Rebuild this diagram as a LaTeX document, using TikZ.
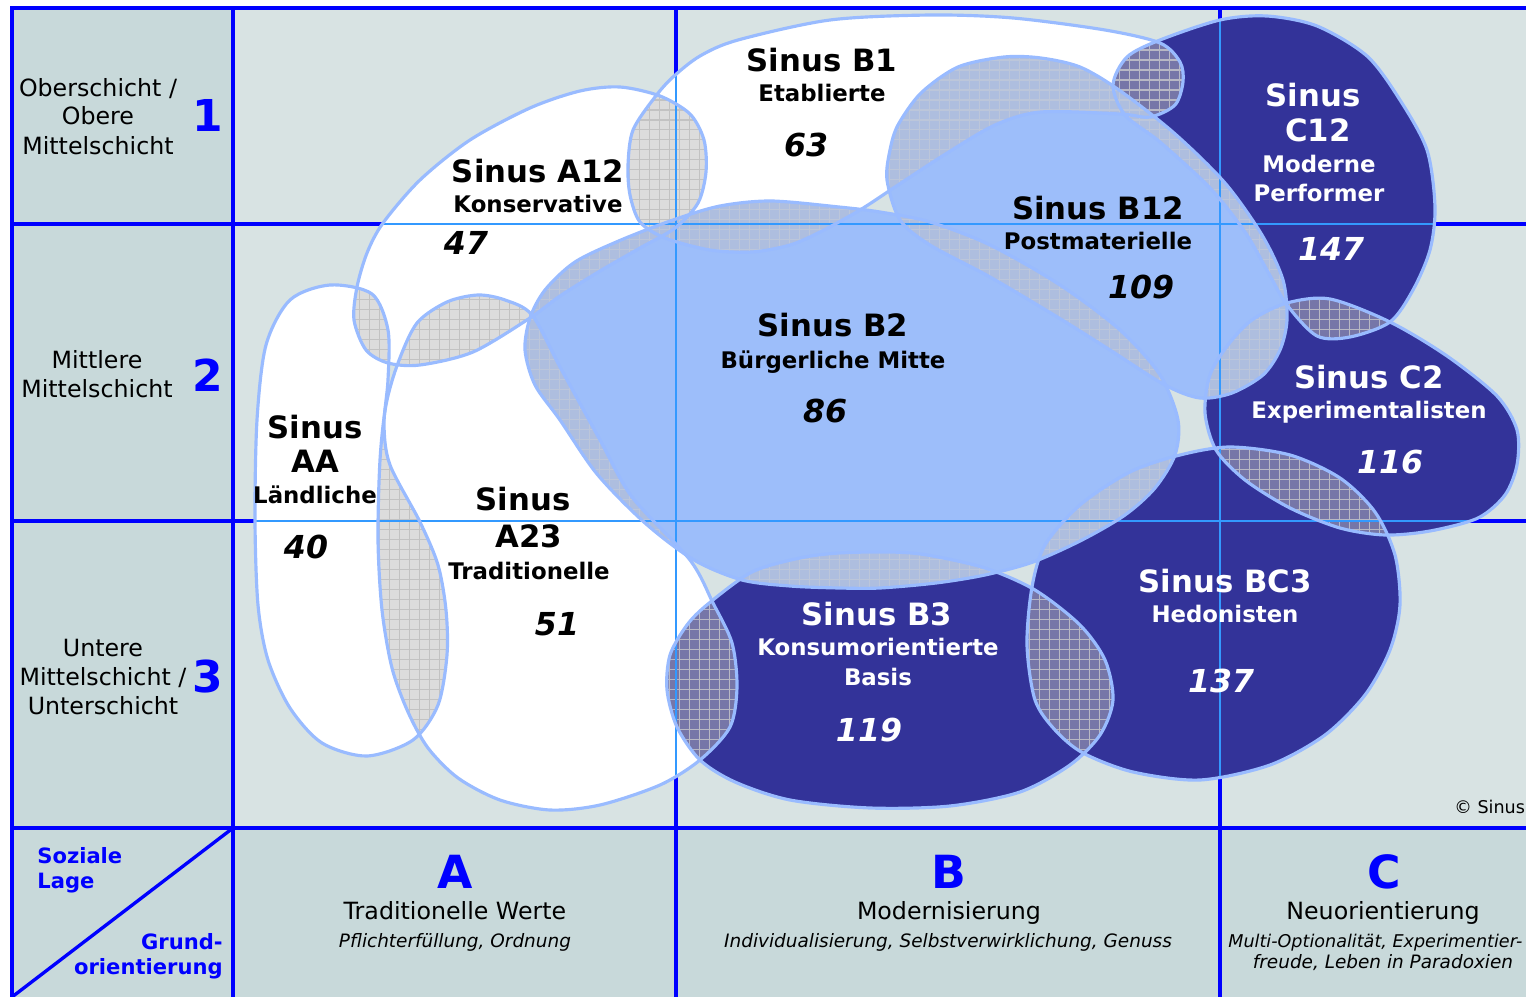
\documentclass[tikz,border=0pt]{standalone}
\usepackage{fontspec}
\setmainfont{DejaVu Sans}

\definecolor{fieldbg}{HTML}{D8E3E3}
\definecolor{headbg}{HTML}{C8D9DA}
\definecolor{gridblue}{HTML}{0000FF}
\definecolor{gridlight}{HTML}{3399FF}
\definecolor{rimblue}{HTML}{99BBFF}
\definecolor{milLight}{HTML}{9DBEFA}
\definecolor{milDark}{HTML}{333399}
\definecolor{ovGray}{HTML}{DCDCDC}
\definecolor{ovGrayLine}{HTML}{C2C2C2}
\definecolor{ovLight}{HTML}{AEBEDF}
\definecolor{ovLightLine}{HTML}{BCC6DA}
\definecolor{ovDark}{HTML}{7676A8}
\definecolor{ovDarkLine}{HTML}{B8B8C4}

% milieu outlines (pixel coordinates, y downwards)
\def\pAA{plot[smooth cycle] coordinates {(330,285) (372,294) (388,330) (388,380) (384,425) (390,465) (420,522) (438,565) (446,610) (447,655) (438,705) (413,740) (367,756) (322,743) (290,708) (268,660) (258,605) (255,520) (257,420) (266,345) (290,300)}}
\def\pAob{plot[smooth cycle] coordinates {(383,223) (420,180) (470,140) (530,108) (580,91) (620,87) (660,96) (690,114) (704,140) (706,172) (698,203) (675,228) (640,248) (600,271) (560,296) (530,318) (473,352) (420,365) (388,363) (366,350) (354,320) (357,287) (367,253)}}
\def\pAun{plot[smooth cycle] coordinates {(532,315) (560,367) (600,440) (632,497) (690,560) (713,603) (732,643) (737,687) (730,727) (700,760) (660,785) (600,805) (550,810) (500,800) (458,778) (428,748) (408,712) (392,668) (382,610) (378,540) (380,460) (386,405) (398,363) (417,323) (447,302) (478,295) (505,300)}}
\def\pBob{plot[smooth cycle] coordinates {(655,97) (673,77) (700,56) (738,40) (830,20) (931,15) (1013,18) (1105,30) (1160,43) (1180,62) (1183,82) (1175,105) (1150,117) (1120,114) (1041,112) (995,125) (944,155) (898,185) (860,210) (820,232) (790,245) (752,252) (710,250) (665,238) (640,222) (630,195) (628,165) (633,130)}}
\def\pBmid{plot[smooth cycle] coordinates {(525,350) (530,318) (545,290) (575,262) (621,240) (673,220) (720,206) (771,201) (839,207) (880,212) (930,222) (990,245) (1060,285) (1120,330) (1160,375) (1178,420) (1175,455) (1155,488) (1125,515) (1082,540) (1033,562) (985,575) (936,583) (880,588) (839,588) (790,586) (742,580) (694,560) (645,523) (597,474) (560,420) (535,385)}}
\def\pBun{plot[smooth cycle] coordinates {(708,604) (752,572) (800,558) (839,553) (890,552) (927,555) (985,568) (1035,590) (1080,625) (1105,660) (1113,700) (1100,735) (1070,765) (1020,792) (950,806) (870,808) (790,800) (735,782) (700,760) (677,727) (667,690) (670,655) (687,625)}}
\def\pBpost{plot[smooth cycle] coordinates {(887,180) (890,150) (898,125) (921,93) (958,67) (1004,57) (1041,58) (1080,67) (1119,90) (1174,133) (1225,183) (1262,235) (1283,280) (1287,320) (1280,350) (1263,375) (1232,393) (1200,398) (1165,385) (1110,350) (1059,318) (990,277) (930,245) (900,220)}}
\def\pBCun{plot[smooth cycle] coordinates {(1032,587) (1045,545) (1080,505) (1130,472) (1180,455) (1230,447) (1290,455) (1340,478) (1375,512) (1395,555) (1400,605) (1390,650) (1365,695) (1325,735) (1270,765) (1200,780) (1133,772) (1083,753) (1055,730) (1035,700) (1027,645)}}
\def\pCob{plot[smooth cycle] coordinates {(1160,40) (1220,20) (1267,16) (1317,26) (1367,56) (1400,100) (1427,150) (1435,207) (1430,250) (1413,290) (1390,322) (1350,337) (1317,336) (1287,305) (1268,272) (1245,232) (1210,188) (1160,142) (1125,115) (1113,85) (1127,57)}}
\def\pCmid{plot[smooth cycle] coordinates {(1287,303) (1330,299) (1390,322) (1447,356) (1497,396) (1517,430) (1517,465) (1505,495) (1478,518) (1430,531) (1385,535) (1340,528) (1290,508) (1245,480) (1216,450) (1205,413) (1210,375) (1228,345) (1252,320)}}

% cross-hatched overlap of two milieus
\newcommand{\overlap}[4]{%
  \begin{scope}
    \clip #1; \clip #2;
    \fill[#3] (0,0) rectangle (1526,997);
    \draw[#4, line width=0.6pt, step=0.2cm] (0,0) grid (1526,997);
  \end{scope}}

\begin{document}
\begin{tikzpicture}[x=0.02cm, y=-0.02cm,
    frame/.style={gridblue, line width=1.9pt},
    inner grid/.style={gridlight, line width=1.1pt},
    rim/.style={rimblue, line width=1.8pt},
    txt/.style={inner sep=0pt, anchor=base},
    layer/.style={txt, font=\fontsize{13.5}{16}\selectfont},
    laynum/.style={txt, text=gridblue, font=\bfseries\fontsize{25}{28}\selectfont},
    axis/.style={txt, text=gridblue, font=\bfseries\fontsize{12}{14}\selectfont},
    colhead/.style={txt, text=gridblue, font=\bfseries\fontsize{26}{28}\selectfont},
    values/.style={txt, font=\itshape\fontsize{10.5}{12}\selectfont},
    mtitle/.style={txt, font=\bfseries\fontsize{17.5}{20}\selectfont},
    subtitle/.style={txt, font=\bfseries\fontsize{13}{15}\selectfont},
    num/.style={txt, font=\bfseries\itshape\fontsize{18}{20}\selectfont},
    inv/.style={text=white}
]

\useasboundingbox (0,0) rectangle (1526,997);
\clip (0,0) rectangle (1526,997);

% Background
\fill[white] (0,0) rectangle (1526,997);
\fill[fieldbg] (12,8) rectangle (1526,997);
\fill[headbg] (12,8) rectangle (233,997);
\fill[headbg] (12,828) rectangle (1526,997);

% Frame and grid
\draw[frame] (12,997) -- (12,8) -- (1526,8);
\foreach \x in {233,676,1220} \draw[frame] (\x,8) -- (\x,997);
\foreach \y in {224,521,828} \draw[frame] (12,\y) -- (1526,\y);
\draw[frame] (233,828) -- (12,997);

% Milieus
\foreach \s in {\pAA,\pAob,\pAun,\pBob} \fill[white] \s;
\foreach \s in {\pBun,\pBCun,\pCob,\pCmid} \fill[milDark] \s;
\foreach \s in {\pBpost,\pBmid} \fill[milLight] \s;

% Overlaps
\overlap{\pAA}{\pAob}{ovGray}{ovGrayLine}
\overlap{\pAA}{\pAun}{ovGray}{ovGrayLine}
\overlap{\pAob}{\pAun}{ovGray}{ovGrayLine}
\overlap{\pAob}{\pBob}{ovGray}{ovGrayLine}
\overlap{\pAun}{\pBun}{ovDark}{ovDarkLine}
\overlap{\pBob}{\pCob}{ovDark}{ovDarkLine}
\overlap{\pCob}{\pCmid}{ovDark}{ovDarkLine}
\overlap{\pCmid}{\pBCun}{ovDark}{ovDarkLine}
\overlap{\pBun}{\pBCun}{ovDark}{ovDarkLine}
\overlap{\pAob}{\pBmid}{ovLight}{ovLightLine}
\overlap{\pAun}{\pBmid}{ovLight}{ovLightLine}
\overlap{\pBob}{\pBmid}{ovLight}{ovLightLine}
\overlap{\pBob}{\pBpost}{ovLight}{ovLightLine}
\overlap{\pBmid}{\pBpost}{ovLight}{ovLightLine}
\overlap{\pBmid}{\pBun}{ovLight}{ovLightLine}
\overlap{\pBmid}{\pBCun}{ovLight}{ovLightLine}
\overlap{\pBpost}{\pCob}{ovLight}{ovLightLine}
\overlap{\pBpost}{\pCmid}{ovLight}{ovLightLine}

% Grid lines seen through the milieus
\foreach \s in {\pAA,\pAob,\pAun,\pBob,\pBmid,\pBun,\pBpost,\pBCun,\pCob,\pCmid}{
  \begin{scope}
    \clip \s;
    \draw[inner grid] (676,8) -- (676,997) (1220,8) -- (1220,997)
      (12,224) -- (1526,224) (12,521) -- (1526,521);
  \end{scope}
}
\foreach \s in {\pAA,\pAob,\pAun,\pBob,\pBmid,\pBun,\pBpost,\pBCun,\pCob,\pCmid}
  \draw[rim] \s;

% Social class labels
\node[layer] (lay1a) at (98,97) {Oberschicht /};
\node[layer] (lay1b) at (98,125) {Obere};
\node[layer] (lay1c) at (98,154) {Mittelschicht};
\node[laynum] (lay1) at (208,132) {1};
\node[layer] (lay2a) at (97,368) {Mittlere};
\node[layer] (lay2b) at (97,397) {Mittelschicht};
\node[laynum] (lay2) at (208,391) {2};
\node[layer] (lay3a) at (103,656) {Untere};
\node[layer] (lay3b) at (103,685) {Mittelschicht /};
\node[layer] (lay3c) at (103,714) {Unterschicht};
\node[laynum] (lay3) at (208,692) {3};

% Corner cell
\node[axis, anchor=base west] (lage1) at (37,863) {Soziale};
\node[axis, anchor=base west] (lage2) at (37,888) {Lage};
\node[axis, anchor=base east] (grund1) at (223,949) {Grund-};
\node[axis, anchor=base east] (grund2) at (223,974) {orientierung};

% Value orientation labels
\node[colhead] (colA) at (455,888) {A};
\node[layer] (colAname) at (455,919) {Traditionelle Werte};
\node[values] (colAval) at (455,947) {Pflichterfüllung, Ordnung};
\node[colhead] (colB) at (949,888) {B};
\node[layer] (colBname) at (949,919) {Modernisierung};
\node[values] (colBval) at (948,947) {Individualisierung, Selbstverwirklichung, Genuss};
\node[colhead] (colC) at (1384,888) {C};
\node[layer] (colCname) at (1383,919) {Neuorientierung};
\node[values, anchor=base west, font=\itshape\fontsize{10}{12}\selectfont] (colCval1) at (1228,947) {Multi-Optionalität, Experimentier-};
\node[values] (colCval2) at (1383,968) {freude, Leben in Paradoxien};

\node[txt, anchor=base west, font=\fontsize{10}{12}\selectfont] (copy) at (1454,813) {© Sinus};

% Milieu names
\node[mtitle] (b1t) at (822,72) {Sinus B1};
\node[subtitle] (b1s) at (822,102) {Etablierte};
\node[num] (b1n) at (806,156) {63};

\node[mtitle] (a12t) at (538,183) {Sinus A12};
\node[subtitle] (a12s) at (538,213) {Konservative};
\node[num] (a12n) at (466,255) {47};

\node[mtitle] (aat1) at (315,438) {Sinus};
\node[mtitle] (aat2) at (315,472) {AA};
\node[subtitle] (aas) at (315,503) {Ländliche};
\node[num] (aan) at (306,558) {40};

\node[mtitle] (a23t1) at (523,510) {Sinus};
\node[mtitle] (a23t2) at (529,547) {A23};
\node[subtitle] (a23s) at (529,579) {Traditionelle};
\node[num] (a23n) at (557,635) {51};

\node[mtitle] (b2t) at (833,337) {Sinus B2};
\node[subtitle] (b2s) at (833,368) {Bürgerliche Mitte};
\node[num] (b2n) at (825,422) {86};

\node[mtitle] (b12t) at (1098,219) {Sinus B12};
\node[subtitle] (b12s) at (1098,250) {Postmaterielle};
\node[num] (b12n) at (1141,298) {109};

\node[mtitle, inv] (c12t1) at (1313,107) {Sinus};
\node[mtitle, inv] (c12t2) at (1318,142) {C12};
\node[subtitle, inv] (c12s1) at (1319,173) {Moderne};
\node[subtitle, inv] (c12s2) at (1319,202) {Performer};
\node[num, inv] (c12n) at (1331,260) {147};

\node[mtitle, inv] (c2t) at (1369,388) {Sinus C2};
\node[subtitle, inv] (c2s) at (1369,418) {Experimentalisten};
\node[num, inv] (c2n) at (1390,473) {116};

\node[mtitle, inv] (b3t) at (877,625) {Sinus B3};
\node[subtitle, inv] (b3s1) at (878,655) {Konsumorientierte};
\node[subtitle, inv] (b3s2) at (878,685) {Basis};
\node[num, inv] (b3n) at (869,741) {119};

\node[mtitle, inv] (bc3t) at (1225,592) {Sinus BC3};
\node[subtitle, inv] (bc3s) at (1225,622) {Hedonisten};
\node[num, inv] (bc3n) at (1221,692) {137};

\end{tikzpicture}
\end{document}
